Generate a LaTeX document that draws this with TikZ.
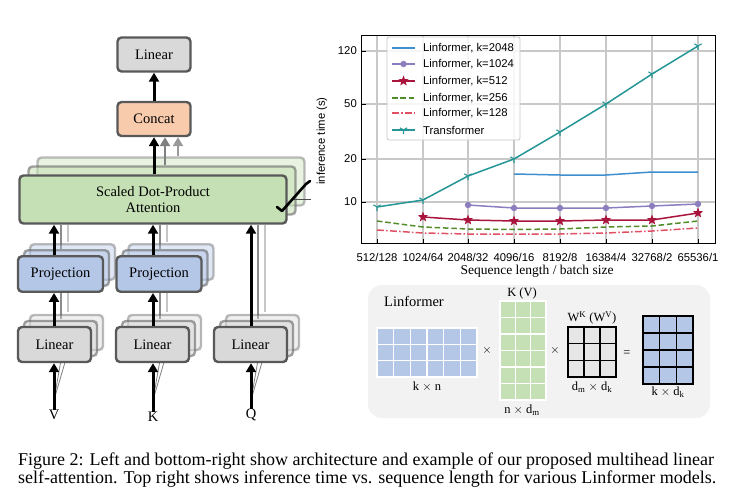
\documentclass[tikz,border=0pt]{standalone}
\usepackage{fontspec}
\setmainfont{Liberation Serif}
\newfontfamily\plotfont{Liberation Sans}
\usetikzlibrary{arrows.meta,calc}
\definecolor{boxborder}{HTML}{595959}
\definecolor{lingray}{HTML}{D9D9D9}
\definecolor{concatc}{HTML}{F8CBAD}
\definecolor{attc}{HTML}{C5E0B4}
\definecolor{projc}{HTML}{B4C7E7}
\definecolor{gridc}{HTML}{C8C8C8}
\definecolor{ctrans}{HTML}{269696}
\definecolor{cktwo}{HTML}{3F8FCF}
\definecolor{ckone}{HTML}{8C7DBE}
\definecolor{ckfive}{HTML}{A8143C}
\definecolor{cktwofive}{HTML}{508C28}
\definecolor{ckonetwo}{HTML}{E05064}
\definecolor{panelc}{HTML}{F2F2F2}
\definecolor{wgray}{HTML}{E6E6E6}
\newcommand{\ghosts}[7]{%
  \node[box, fill=#6, minimum width=#4, minimum height=#5, opacity=0.4] (#1s2) at (#2+2*#7, #3-2*#7) {};
  \node[box, fill=#6, minimum width=#4, minimum height=#5, opacity=0.55] (#1s1) at (#2+#7, #3-#7) {};
}
\newcommand{\mstar}[3]{%
  \fill[#3, shift={(#1,#2)}] (270:5.5) -- (306:2.3) -- (342:5.5) -- (18:2.3) -- (54:5.5) -- (90:2.3) -- (126:5.5) -- (162:2.3) -- (198:5.5) -- (234:2.3) -- cycle;
}
\newcommand{\mtri}[3]{%
  \draw[#3, line width=1.1pt, shift={(#1,#2)}] (0,0) -- (0,4) (0,0) -- (-3.6,-2.2) (0,0) -- (3.6,-2.2);
}
\begin{document}
\begin{tikzpicture}[x=1pt,y=-1pt,
  box/.style={draw=boxborder, line width=2.4pt, rounded corners=4pt,
    font=\fontsize{14.5}{16.5}\selectfont, inner sep=0pt, align=center},
  arr/.style={line width=3pt, -{Triangle[length=9pt,width=10pt]}},
  garr/.style={line width=2.6pt, draw=gray, -{Triangle[length=9pt,width=10pt]}, fill=gray},
  gline/.style={line width=2.6pt, draw=gray!90},
  gline2/.style={line width=2.6pt, draw=gray!45},
  fan/.style={line width=0.8pt, draw=gray},
  lbl/.style={font=\fontsize{14.5}{16}\selectfont, inner sep=0pt},
  tick/.style={font=\plotfont\fontsize{11.3}{13}\selectfont, inner sep=0pt},
  mlbl/.style={font=\fontsize{12.5}{14}\selectfont, inner sep=0pt},
  dline/.style={line width=1.5pt}
]
\path[use as bounding box, fill=white] (0,0) rectangle (735,495);

% ---------------- left diagram ----------------
% grey lines behind boxes
\foreach \cx/\top/\bot in {54/326/293, 153/326/293, 54/256/225, 153/256/225, 251/326/225}{
  \draw[gline] (\cx+7,\top-7) -- (\cx+7,\bot);
  \draw[gline2] (\cx+14,\top-14) -- (\cx+14,\bot);
}
\foreach \cx in {54,153,251}{
  \draw[fan] (\cx,400) -- (\cx+7,360);
  \draw[fan] (\cx,400) -- (\cx+14,352);
}

% attention stack
\ghosts{att}{153}{199.5}{267}{48}{attc}{9}
\node[box, fill=attc, minimum width=267, minimum height=48] (att) at (153,199.5) {Scaled Dot-Product\\Attention};

% projection stacks
\ghosts{pa}{60.5}{274}{85}{35.5}{projc}{6}
\node[box, fill=projc, minimum width=85, minimum height=35.5] (pa) at (60.5,274) {Projection};
\ghosts{pb}{159}{274}{85}{35.5}{projc}{6}
\node[box, fill=projc, minimum width=85, minimum height=35.5] (pb) at (159,274) {Projection};

% linear stacks
\ghosts{la}{54.5}{344.5}{73}{35}{lingray}{6}
\node[box, fill=lingray, minimum width=73, minimum height=35] (la) at (54.5,344.5) {Linear};
\ghosts{lb}{152.5}{344.5}{73}{35}{lingray}{6}
\node[box, fill=lingray, minimum width=73, minimum height=35] (lb) at (152.5,344.5) {Linear};
\ghosts{lc}{250.5}{344.5}{73}{35}{lingray}{6}
\node[box, fill=lingray, minimum width=73, minimum height=35] (lc) at (250.5,344.5) {Linear};

% concat and top linear
\node[box, fill=concatc, minimum width=73, minimum height=34] (concat) at (154,119) {Concat};
\node[box, fill=lingray, minimum width=73, minimum height=34] (ltop) at (154,54.5) {Linear};

% inputs
\node[lbl] (vin) at (54,415) {V};
\node[lbl] (kin) at (153,417) {K};
\node[lbl] (qin) at (251,415) {Q};

% black arrows
\coordinate (cv) at (54,0);
\coordinate (ck) at (153,0);
\coordinate (cq) at (251,0);
\draw[arr] (vin.north) -- (cv |- la.south);
\draw[arr] (kin.north) -- (ck |- lb.south);
\draw[arr] (qin.north) -- (cq |- lc.south);
\draw[arr] (cv |- la.north) -- (cv |- pa.south);
\draw[arr] (ck |- lb.north) -- (ck |- pb.south);
\draw[arr] (cv |- pa.north) -- (cv |- att.south);
\draw[arr] (ck |- pb.north) -- (ck |- att.south);
\draw[arr] (cq |- lc.north) -- (cq |- att.south);
\coordinate (ca) at (154,0);
\draw[arr] (ca |- att.north) -- (ca |- concat.south);
\draw[arr] (concat.north) -- (ltop.south);
% grey arrows from attention heads
\coordinate (ga1) at (165,165);
\coordinate (ga2) at (178,156);
\draw[garr] (ga1) -- (ga1 |- concat.south);
\draw[garr, draw=gray!80, fill=gray!80] (ga2) -- (ga2 |- concat.south);
% head-count mark
\draw[line width=0.6pt, draw=black!70] (292,199) -- (311,199);
\draw[line width=2.6pt, line cap=round, line join=round] (277,207) -- (282,211) -- (306,184) -- (310,181);

% ---------------- plot ----------------
\foreach \x in {377,423,468,514,560,606,652,698}{
  \draw[gridc, line width=1.2pt] (\x,36) -- (\x,243);
  \draw[line width=0.8pt] (\x,243) -- (\x,239);
}
\foreach \y in {51,104,159,202}{
  \draw[gridc, line width=1.2pt] (361,\y) -- (715,\y);
  \draw[line width=0.8pt] (361,\y) -- (366,\y);
}
\draw[line width=1pt] (361,36) rectangle (715,243);

% data
\draw[dline, ckonetwo, dash pattern=on 7pt off 2.2pt on 1.5pt off 2.2pt]
  (377,230) -- (423,233) -- (468,234) -- (514,234) -- (560,234) -- (606,233) -- (652,231) -- (698,228);
\draw[dline, cktwofive, dash pattern=on 5.5pt off 2.8pt]
  (377,221) -- (423,227) -- (468,229) -- (514,229.5) -- (560,229) -- (606,227) -- (652,226) -- (698,221);
\draw[dline, ckfive]
  (423,217) -- (468,220) -- (514,221) -- (560,221) -- (606,220) -- (652,220) -- (698,213);
\foreach \x/\y in {423/217,468/220,514/221,560/221,606/220,652/220,698/213}{\mstar{\x}{\y}{ckfive}}
\draw[dline, ckone]
  (468,205) -- (514,208) -- (560,208) -- (606,208) -- (652,206) -- (698,204);
\foreach \x/\y in {468/205,514/208,560/208,606/208,652/206,698/204}{\fill[ckone] (\x,\y) circle (3.2);}
\draw[dline, cktwo]
  (514,174) -- (560,175) -- (606,175) -- (652,172) -- (698,172);
\draw[dline, ctrans]
  (377,207) -- (423,200) -- (468,176) -- (514,159) -- (560,132) -- (606,104) -- (652,74) -- (698,46);
\foreach \x/\y in {377/207,423/200,468/176,514/159,560/132,606/104,652/74,698/46}{\mtri{\x}{\y}{ctrans}}

% legend
\draw[fill=white, fill opacity=0.85, draw=gridc, line width=0.8pt, rounded corners=2pt] (387,37) rectangle (520,140);
\draw[dline, cktwo] (392,48) -- (415,48);
\draw[dline, ckone] (392,64) -- (415,64); \fill[ckone] (403.5,64) circle (3.2);
\draw[dline, ckfive] (392,81) -- (415,81); \mstar{403.5}{81}{ckfive}
\draw[dline, cktwofive, dash pattern=on 5.5pt off 2.8pt] (392,98) -- (415,98);
\draw[dline, ckonetwo, dash pattern=on 7pt off 2.2pt on 1.5pt off 2.2pt] (392,113) -- (415,113);
\draw[dline, ctrans] (392,130) -- (415,130); \mtri{403.5}{130}{ctrans}
\node[tick, anchor=west] (lg1) at (423,48) {Linformer, k=2048};
\node[tick, anchor=west] (lg2) at (423,64) {Linformer, k=1024};
\node[tick, anchor=west] (lg3) at (423,81) {Linformer, k=512};
\node[tick, anchor=west] (lg4) at (423,98) {Linformer, k=256};
\node[tick, anchor=west] (lg5) at (423,113) {Linformer, k=128};
\node[tick, anchor=west] (lg6) at (423,130) {Transformer};

% tick labels
\node[tick, anchor=east] (yt1) at (357,51) {120};
\node[tick, anchor=east] (yt2) at (357,104) {50};
\node[tick, anchor=east] (yt3) at (357,159) {20};
\node[tick, anchor=east] (yt4) at (357,202) {10};
\foreach \x/\t [count=\i] in {377/512\slash128, 423/1024\slash64, 468/2048\slash32, 514/4096\slash16, 560/8192\slash8, 606/16384\slash4, 652/32768\slash2, 698/65536\slash1}{
  \node[tick] (xt\i) at (\x,257) {\t};
}
\node[tick, rotate=90] (ylab) at (322,141) {inference time (s)};
\node[font=\fontsize{13.5}{15}\selectfont, inner sep=0pt] (xlab) at (537,271) {Sequence length / batch size};

% ---------------- Linformer example ----------------
\fill[panelc, rounded corners=14pt] (368,285) rectangle (710,418);
\node[font=\fontsize{14.5}{16}\selectfont, inner sep=0pt, anchor=west] (lfname) at (384,301) {Linformer};
\foreach \i in {0,...,5}{\foreach \j in {0,1,2}{
  \draw[fill=projc, draw=white, line width=1.6pt] (377+\i*16.67,328+\j*16.33) rectangle ++(16.67,16.33);
}}
\foreach \i in {0,1,2}{\foreach \j in {0,...,5}{
  \draw[fill=attc, draw=white, line width=1.6pt] (500+\i*15.33,301+\j*16.5) rectangle ++(15.33,16.5);
}}
\draw[fill=wgray, line width=1.3pt] (568,327) rectangle (616,377);
\draw[line width=1.3pt] (584,327) -- (584,377) (600,327) -- (600,377) (568,343.67) -- (616,343.67) (568,360.33) -- (616,360.33);
\draw[fill=projc, line width=1.3pt] (643,316) rectangle (693,384);
\draw[line width=1.3pt] (659.67,316) -- (659.67,384) (676.33,316) -- (676.33,384) (643,333) -- (693,333) (643,350) -- (693,350) (643,367) -- (693,367);
\node[mlbl] (mkn) at (427,387) {k $\times$ n};
\node[mlbl] (mkv) at (522,293) {K (V)};
\node[mlbl] (mnd) at (522,410) {n $\times$ d\textsubscript{m}};
\node[mlbl] (mw) at (592,318) {W\textsuperscript{K} (W\textsuperscript{V})};
\node[mlbl] (mdd) at (592,387) {d\textsubscript{m} $\times$ d\textsubscript{k}};
\node[mlbl] (mkd) at (668,392) {k $\times$ d\textsubscript{k}};
\node[mlbl] (op1) at (487,350) {$\times$};
\node[mlbl] (op2) at (555,350) {$\times$};
\node[mlbl] (op3) at (627,354) {=};

% ---------------- caption ----------------
\node[font=\fontsize{18}{20}\selectfont, inner sep=0pt, anchor=base west] (cap1) at (18,465) {Figure 2: Left and bottom-right show architecture and example of our proposed multihead linear};
\node[font=\fontsize{18}{20}\selectfont, inner sep=0pt, anchor=base west] (cap2) at (18,483.5) {self-attention. Top right shows inference time vs. sequence length for various Linformer models.};
\end{tikzpicture}
\end{document}
